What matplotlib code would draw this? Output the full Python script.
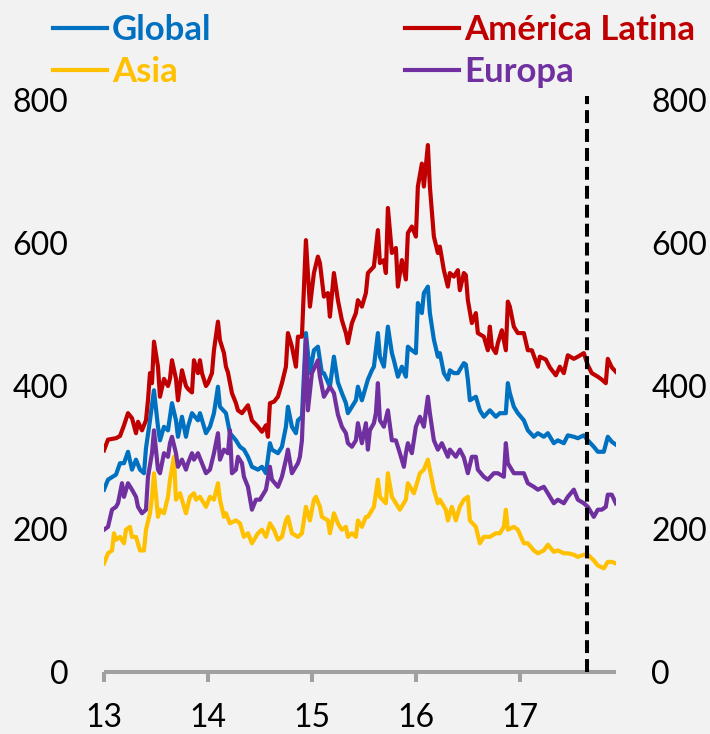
import matplotlib.pyplot as plt
import numpy as np
from matplotlib.lines import Line2D

plt.rcParams.update({'font.family': ['Lato', 'DejaVu Sans'], 'font.size': 23})

# weeks since start of 2013 for each reading, and the values
latam_wk = [0,2,6,8,10,12,14,16,17,19,21,22,23,24,25,27,28,30,32,33,
            34,36,37,39,41,42,44,45,47,48,49,51,52,54,55,57,58,60,61,62,
            64,66,67,69,72,74,77,79,81,82,83,85,87,89,91,92,94,96,97,99,
            101,103,105,107,108,110,112,113,115,117,119,121,122,124,126,127,129,131,132,135,
            137,138,140,141,142,144,146,147,149,151,152,154,156,157,159,160,162,163,165,167,
            168,170,172,173,175,177,178,180,181,182,184,186,187,190,192,193,194,196,197,199,
            201,202,203,205,207,210,212,214,217,218,221,223,226,228,230,232,235,237,240,242,
            244,247,249,251,252,254,256]
latam = [310,325,327,330,345,362,355,334,350,338,352,380,418,404,462,427,385,410,400,410,
         436,410,380,422,400,396,391,436,418,436,418,400,404,418,450,490,464,446,427,419,
         390,376,366,362,373,352,343,336,345,329,376,378,385,404,427,474,455,427,469,469,
         604,511,558,581,572,525,530,497,558,520,492,474,460,488,502,520,511,530,558,567,
         618,572,576,558,649,586,593,539,576,549,614,623,609,679,711,679,737,679,609,586,
         595,562,539,558,553,562,534,558,555,520,488,502,474,469,450,483,455,446,460,478,
         450,518,511,483,474,474,450,450,427,441,437,426,415,427,418,443,438,441,446,429,
         418,413,409,404,438,426,420]

global_wk = [0,2,6,8,10,12,14,16,18,20,21,23,25,27,28,30,32,34,36,37,
             39,41,42,44,47,48,50,51,53,55,57,58,61,63,66,68,70,72,74,77,
             79,81,83,84,87,89,91,92,94,96,97,99,101,103,105,107,109,110,113,115,
             117,119,121,122,124,126,127,129,131,132,134,135,137,138,140,142,144,145,147,149,
             151,152,154,156,157,159,160,162,163,165,167,168,170,172,173,175,177,180,181,182,
             183,186,188,190,193,196,198,201,202,203,205,207,210,212,215,217,220,222,225,227,
             230,232,235,237,240,242,245,247,250,252,254,256]
global_ = [255,269,276,292,292,308,283,297,283,278,313,352,394,343,324,343,338,376,352,329,
           357,329,343,362,352,362,343,334,343,362,399,371,362,334,324,315,311,301,287,283,
           287,278,320,311,306,315,343,371,343,334,352,357,474,418,450,455,418,418,399,441,
           405,390,376,362,371,380,399,380,399,409,422,427,474,441,427,483,446,436,413,427,
           413,455,450,446,516,502,530,539,502,465,441,446,418,409,422,418,418,432,430,409,
           380,385,366,357,366,357,362,362,404,390,371,362,352,338,329,334,329,334,320,324,
           320,331,329,327,331,324,315,308,308,329,322,318]

europe_wk = [0,2,4,6,7,9,10,12,14,16,17,19,21,22,24,25,27,28,30,32,
             33,34,36,37,39,41,42,44,45,47,49,51,53,55,57,58,60,62,63,64,
             66,67,69,70,72,74,76,78,81,83,84,87,89,91,92,94,97,98,99,101,
             102,104,107,108,110,113,115,117,119,121,122,124,126,127,129,131,132,133,135,136,
             137,138,140,142,144,146,148,150,151,152,154,156,158,160,162,163,165,167,169,172,
             173,176,178,180,182,184,186,187,190,192,195,197,200,201,202,205,207,210,212,215,
             217,220,222,225,227,230,232,235,237,240,242,245,247,249,251,252,254,256]
europe = [199,203,227,231,236,264,245,264,255,245,231,222,227,273,306,338,283,278,306,301,
          320,329,306,287,297,283,292,306,297,306,292,278,283,306,334,297,311,306,338,278,
          283,301,292,273,259,227,241,241,255,287,269,259,273,297,311,278,292,301,324,465,
          366,418,436,413,385,399,390,360,343,334,320,315,324,348,320,348,311,338,348,362,
          404,352,343,366,324,324,306,287,306,320,306,343,357,343,385,362,324,311,320,301,
          311,301,311,300,278,301,301,283,273,269,278,278,273,320,292,278,278,278,264,259,
          255,259,250,236,241,236,245,255,241,236,231,217,227,227,231,248,248,236]

asia_wk = [0,2,4,5,6,8,10,11,13,14,16,18,20,21,23,24,25,27,28,30,
           32,33,35,36,38,40,41,43,45,46,48,50,51,53,55,57,58,60,61,63,
           66,68,70,72,74,77,79,81,83,85,87,89,91,92,94,97,99,101,103,105,
           106,108,109,112,113,115,117,118,119,121,122,124,126,127,129,131,132,135,137,138,
           141,142,144,146,148,151,152,155,156,158,160,162,163,165,167,168,171,172,174,176,
           178,180,182,183,186,188,190,193,196,198,200,201,202,205,207,210,212,215,217,220,
           222,225,227,230,232,235,237,240,242,245,247,250,252,254,256]
asia = [152,166,170,194,185,189,180,199,203,189,189,170,170,199,222,245,278,217,227,222,
        245,269,301,241,250,231,222,245,250,241,245,236,231,245,241,264,241,217,222,208,
        212,208,189,194,180,194,199,189,208,199,185,189,212,217,194,189,194,231,212,241,
        245,231,217,212,194,222,208,203,199,203,189,194,189,212,203,217,217,231,269,245,
        236,278,245,236,227,241,264,250,259,278,283,297,283,255,236,241,227,212,231,212,
        231,241,245,212,203,180,189,189,194,194,203,227,199,203,199,180,180,170,166,170,
        178,168,170,166,166,164,161,164,164,156,149,145,154,154,152]

year_ticks = [13, 14, 15, 16, 17]
cut_date = 17.65   # dashed vertical marker

series = [
    ('Global', global_wk, global_, '#0070c0'),
    ('América Latina', latam_wk, latam, '#c00000'),
    ('Asia', asia_wk, asia, '#ffc000'),
    ('Europa', europe_wk, europe, '#7030a0'),
]

W, H = 710, 734
bg = '#f2f2f2'
fig = plt.figure(figsize=(W / 100, H / 100), dpi=100, facecolor=bg)
ax = fig.add_axes([104 / W, 1 - 672 / H, 512 / W, 572 / H], facecolor=bg)

for name, wk, vals, col in series:
    ax.plot(13 + np.array(wk) / 52, vals, color=col, lw=3, solid_joinstyle='round')

ax.plot([cut_date, cut_date], [0, 805], color='black', lw=2.9, dashes=(3.2, 1.5),
        clip_on=False, zorder=5)

ax.set_xlim(13, 17.925)
ax.set_ylim(0, 800)
ax.set_xticks(year_ticks)
ax.set_xticklabels([str(y) for y in year_ticks])
ax.set_yticks([0, 200, 400, 600, 800])

for s in ['top', 'left', 'right']:
    ax.spines[s].set_visible(False)
ax.spines['bottom'].set_color('#a0a0a0')
ax.spines['bottom'].set_linewidth(2.9)
ax.spines['bottom'].set_capstyle('butt')
ax.tick_params(axis='x', direction='out', length=7, width=2.9, color='#a0a0a0', pad=15,
               labelsize=23)
ax.tick_params(axis='y', left=False, right=False, labelleft=True, labelright=True,
               pad=22, labelsize=23)

# legend drawn by hand, two rows of two
legend_pos = {'Global': (53, 28), 'Asia': (53, 70),
              'América Latina': (405, 28), 'Europa': (405, 70)}
for name, wk, vals, col in series:
    x0, y0 = legend_pos[name]
    fig.add_artist(Line2D([x0 / W, (x0 + 54) / W], [1 - y0 / H, 1 - y0 / H],
                          transform=fig.transFigure, color=col, lw=3))
    fig.text((x0 + 59) / W, 1 - (y0 + 12.5) / H, name, color=col, fontsize=25,
             fontweight='bold', va='baseline', ha='left')

fig.savefig('out.png', dpi=100, facecolor=bg)
